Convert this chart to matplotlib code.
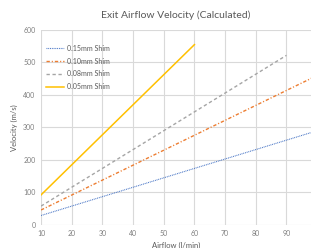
import matplotlib.pyplot as plt
import numpy as np

plt.rcParams['font.family'] = ['Lato', 'DejaVu Sans']

# airflow (l/min)
flow = [10, 20, 30, 40, 50, 60, 70, 80, 90, 100]
# exit velocity (m/s) per shim thickness
v_015 = [29, 58, 87, 116, 145, 174, 203, 232, 261, 290]
v_010 = [46, 92, 138, 184, 230, 276, 322, 368, 414, 460]
v_008 = [58, 116, 174, 232, 290, 348, 406, 464, 522]
v_005 = [92.5, 185, 277.5, 370, 462.5, 555]
labels = ['0.15mm Shim', '0.10mm Shim', '0.08mm Shim', '0.05mm Shim']

fig = plt.figure(figsize=(3.11, 2.48), dpi=100)
ax = fig.add_axes([0.132, 0.093, 0.868, 0.786])

ax.plot(flow, v_015, color='#4472C4', lw=0.8, dashes=(0.8, 0.8), label=labels[0])
ax.plot(flow, v_010, color='#ED7D31', lw=1.0, dashes=(2.4, 1.4, 0.8, 1.4), label=labels[1])
ax.plot(flow[:len(v_008)], v_008, color='#A5A5A5', lw=1.0, dashes=(2.4, 1.9), label=labels[2])
ax.plot(flow[:len(v_005)], v_005, '-', color='#FFC000', lw=1.1, label=labels[3])

ax.set_xlim(10, 98)
ax.set_ylim(0, 600)
ax.set_xticks(np.arange(10, 100, 10))
ax.set_yticks(np.arange(0, 700, 100))
ax.grid(True, color='#D9D9D9', lw=0.8)
for s in ax.spines.values():
    s.set_visible(False)
ax.tick_params(length=0, labelsize=5, colors='#7F7F7F', pad=4)

ax.set_title('Exit Airflow Velocity (Calculated)', fontsize=7.5, color='#595959', pad=9)
ax.set_xlabel('Airflow (l/min)', fontsize=5.5, color='#595959', labelpad=3)
ax.set_ylabel('Velocity (m/s)', fontsize=5.5, color='#595959', labelpad=4)

leg = ax.legend(loc='upper left', bbox_to_anchor=(0.0, 0.95), fontsize=5, frameon=False,
                labelcolor='#595959', handlelength=2.6, handletextpad=0.5,
                borderaxespad=0.3, labelspacing=0.85)

fig.savefig('out.png', dpi=100)
